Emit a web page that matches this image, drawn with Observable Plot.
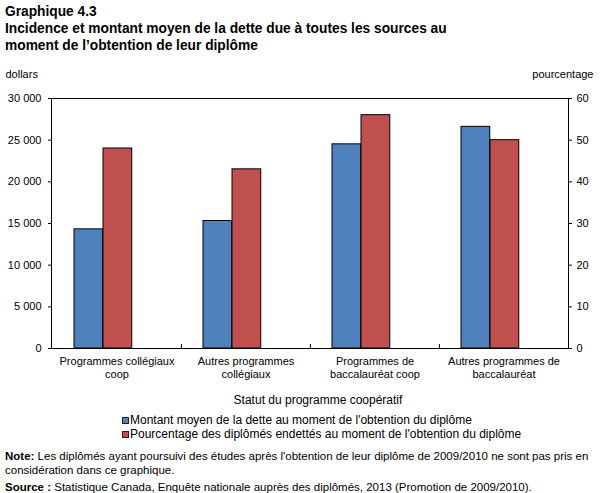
<!DOCTYPE html>
<html>
<head>
<meta charset="utf-8">
<script src="https://cdn.jsdelivr.net/npm/d3@7"></script>
<script src="https://cdn.jsdelivr.net/npm/@observablehq/plot@0.6"></script>
<style>
  body { margin: 0; background: #fff; font-family: "Liberation Sans", Arial, sans-serif; color: #000; width: 607px; height: 493px; position: relative; overflow: hidden; }
  .abs { position: absolute; }
  #title { left: 5px; top: 3px; font-weight: bold; font-size: 13.75px; line-height: 17px; }
  #chart { left: 0; top: 60px; }
  #xtitle { left: 118px; width: 400px; top: 393px; text-align: center; font-size: 12px; line-height: 14px; white-space: nowrap; }
  .leg { left: 122px; font-size: 12px; line-height: 14px; height: 14px; white-space: nowrap; display: flex; align-items: center; }
  .sw { display: inline-block; width: 5px; height: 5px; border: 1px solid #222; margin-right: 1px; }
  #note { left: 5px; top: 449px; font-size: 11.5px; line-height: 14px; white-space: nowrap; }
  #source { left: 5px; top: 480px; font-size: 11.5px; line-height: 14px; white-space: nowrap; }
</style>
</head>
<body>
<div id="title" class="abs">Graphique 4.3<br>Incidence et montant moyen de la dette due à toutes les sources au<br>moment de l’obtention de leur diplôme</div>
<div id="chart" class="abs"></div>
<div id="xtitle" class="abs">Statut du programme coopératif</div>
<div id="leg1" class="abs leg" style="top:413px"></div>
<div id="leg2" class="abs leg" style="top:427px"></div>
<div id="note" class="abs"><b>Note:</b> Les diplômés ayant poursuivi des études après l'obtention de leur diplôme de 2009/2010  ne sont pas pris en<br>considération dans ce graphique.</div>
<div id="source" class="abs"><b>Source :</b> Statistique Canada, Enquête nationale auprès des diplômés, 2013 (Promotion de 2009/2010).</div>
<script>
const categories = ["Programmes collégiaux coop", "Autres programmes collégiaux", "Programmes de baccalauréat coop", "Autres programmes de baccalauréat"];
const tickLabels = ["Programmes collégiaux\ncoop", "Autres programmes\ncollégiaux", "Programmes de\nbaccalauréat coop", "Autres programmes de\nbaccalauréat"];
const debt = [14300, 15300, 24500, 26600];
const pct = [48, 43, 56, 50];
const seriesNames = ["Montant moyen de la dette au moment de l'obtention du diplôme", "Pourcentage des diplômés endettés au moment de l'obtention du diplôme"];
const colors = ["#4F81BD", "#C0504D"];
const dollarTicks = [0, 5000, 10000, 15000, 20000, 25000, 30000];
const pctTicks = [0, 10, 20, 30, 40, 50, 60];

const ratio = 30000 / 60;
const data = categories.map((c, i) => ({cat: c, debt: debt[i], pct: pct[i]}));
const W = 607, mL = 51, mR = 39;
const bw = (W - mL - mR) / categories.length;
const fmt = d => d3.format(",")(d).replace(/,/g, " ");

const chart = Plot.plot({
  width: W,
  height: 330,
  marginTop: 38,
  marginBottom: 42,
  marginLeft: mL,
  marginRight: mR,
  style: {fontFamily: "'Liberation Sans', Arial, sans-serif", fontSize: "11px", color: "#000", background: "transparent", overflow: "visible"},
  x: {domain: categories, padding: 0, axis: null},
  y: {domain: [0, 30000], axis: null},
  marks: [
    Plot.barY(data, {x: "cat", y: "debt", fill: colors[0], stroke: "#000", strokeWidth: 1, insetLeft: 22, insetRight: bw - 51}),
    Plot.barY(data, {x: "cat", y: d => d.pct * ratio, fill: colors[1], stroke: "#000", strokeWidth: 1, insetLeft: 51, insetRight: bw - 80}),
    Plot.ruleX(categories.slice(1), {x: d => d, dx: -bw / 2, insetTop: 250 - 4, stroke: "#000"}),
    Plot.frame({stroke: "#000"}),
    Plot.axisY({ticks: dollarTicks, tickFormat: fmt, tickSize: 3, tickPadding: 7, label: null, stroke: "#000"}),
    Plot.axisY({anchor: "right", ticks: pctTicks.map(v => v * ratio), tickFormat: d => String(d / ratio), tickSize: 3, tickPadding: 5, label: null}),
    Plot.axisX({tickSize: 0, tickPadding: 8, tickFormat: d => tickLabels[categories.indexOf(d)], lineHeight: 1.15, label: null}),
    Plot.text(["dollars"], {frameAnchor: "top-left", textAnchor: "start", dx: 5 - mL, dy: -28}),
    Plot.text(["pourcentage"], {frameAnchor: "top-right", textAnchor: "end", dx: 25, dy: -28})
  ]
});
document.getElementById("chart").appendChild(chart);

["leg1", "leg2"].forEach((id, i) => {
  const el = document.getElementById(id);
  const sw = document.createElement("span");
  sw.className = "sw";
  sw.style.background = colors[i];
  el.appendChild(sw);
  el.appendChild(document.createTextNode(seriesNames[i]));
});
</script>
</body>
</html>
